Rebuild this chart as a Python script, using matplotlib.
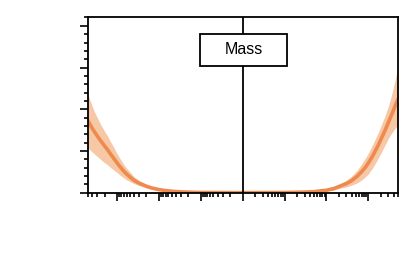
import numpy as np
import matplotlib
matplotlib.use('Agg')
import matplotlib.pyplot as plt
from matplotlib.patches import Rectangle

# values (symlog x, arbitrary y units)
x_left = [-5000, -4500, -4000, -3500, -3000, -2500, -2000, -1700, -1500, -1200, -1000, -850,
          -700, -600, -500, -400, -300, -200, -150, -100, -70, -50, -30, -20, -10, -1, 0]
m_left = [1.72, 1.64, 1.55, 1.46, 1.36, 1.25, 1.12, 1.03, 0.95, 0.82, 0.71, 0.62,
          0.52, 0.45, 0.38, 0.30, 0.23, 0.155, 0.115, 0.075, 0.052, 0.036, 0.021, 0.014, 0.006, 0.001, 0.0]
lo_left = [1.08, 1.03, 0.98, 0.93, 0.87, 0.80, 0.72, 0.67, 0.62, 0.54, 0.48, 0.42,
           0.36, 0.31, 0.27, 0.22, 0.17, 0.115, 0.085, 0.055, 0.038, 0.026, 0.015, 0.010, 0.004, 0.0, 0.0]
hi_left = [2.36, 2.22, 2.08, 1.94, 1.80, 1.64, 1.47, 1.36, 1.25, 1.08, 0.93, 0.81,
           0.68, 0.59, 0.50, 0.39, 0.29, 0.195, 0.145, 0.095, 0.066, 0.046, 0.027, 0.018, 0.008, 0.002, 0.0]

x_right = [0, 1, 10, 30, 50, 100, 150, 200, 300, 400, 550, 700, 850, 1000, 1250, 1500,
           1750, 2000, 2500, 3000, 3500, 4000, 4500, 5000]
m_right = [0.0, 0.001, 0.005, 0.015, 0.025, 0.06, 0.10, 0.15, 0.22, 0.29, 0.40, 0.51, 0.61, 0.71, 0.87, 1.02,
           1.15, 1.28, 1.49, 1.68, 1.84, 1.98, 2.11, 2.22]
lo_right = [0.0, 0.0, 0.003, 0.009, 0.015, 0.04, 0.065, 0.10, 0.14, 0.18, 0.24, 0.31, 0.38, 0.45, 0.59, 0.72,
            0.84, 0.95, 1.14, 1.30, 1.41, 1.49, 1.56, 1.62]
hi_right = [0.0, 0.002, 0.007, 0.021, 0.035, 0.08, 0.135, 0.20, 0.30, 0.40, 0.55, 0.70, 0.83, 0.95, 1.14, 1.31,
            1.46, 1.60, 1.84, 2.07, 2.30, 2.53, 2.76, 2.99]

title = 'Mass'
line_c = '#ee8a4e'
band_c = '#f7c8a5'

x = np.array(x_left + x_right[1:])
m = np.array(m_left + m_right[1:])
lo = np.array(lo_left + lo_right[1:])
hi = np.array(hi_left + hi_right[1:])

fig = plt.figure(figsize=(4.15, 2.73), dpi=100)
ax = fig.add_axes([0.212, 0.294, 0.746, 0.645])

ax.fill_between(x, lo, hi, color=band_c, lw=0, zorder=1)
ax.plot(x, m, color=line_c, lw=2.6, zorder=2, solid_joinstyle='round')
ax.axvline(0, color='black', lw=1.3, zorder=3)

ax.set_xscale('symlog', linthresh=1, linscale=0.001)
ax.set_xlim(-5000, 5000)
ax.set_ylim(0, 4.22)

majors = [-1000, -100, -10, 0, 10, 100, 1000]
minors = []
for n in range(0, 4):
    for k in range(2, 10):
        v = k * 10**n
        if v <= 5000:
            minors += [v, -v]
ax.set_xticks(majors)
ax.set_xticks(minors, minor=True)
ax.set_yticks(np.arange(0, 4.3, 1.0))
ax.set_yticks(np.arange(0, 4.3, 0.2), minor=True)

ax.tick_params(which='both', direction='out', labelbottom=False, labelleft=False,
               top=False, right=False, width=1.2, color='black')
ax.tick_params(which='major', length=5.5)
ax.tick_params(which='minor', length=3)
for s in ax.spines.values():
    s.set_linewidth(1.3)

ax.add_patch(Rectangle((0.362, 0.72), 0.281, 0.182, transform=ax.transAxes,
                       facecolor='white', edgecolor='black', lw=1.3, zorder=5))
ax.text(0.5025, 0.811, title, transform=ax.transAxes, ha='center', va='center',
        fontsize=11.5, family='Liberation Sans', zorder=6)

fig.savefig('out.png', dpi=100)
